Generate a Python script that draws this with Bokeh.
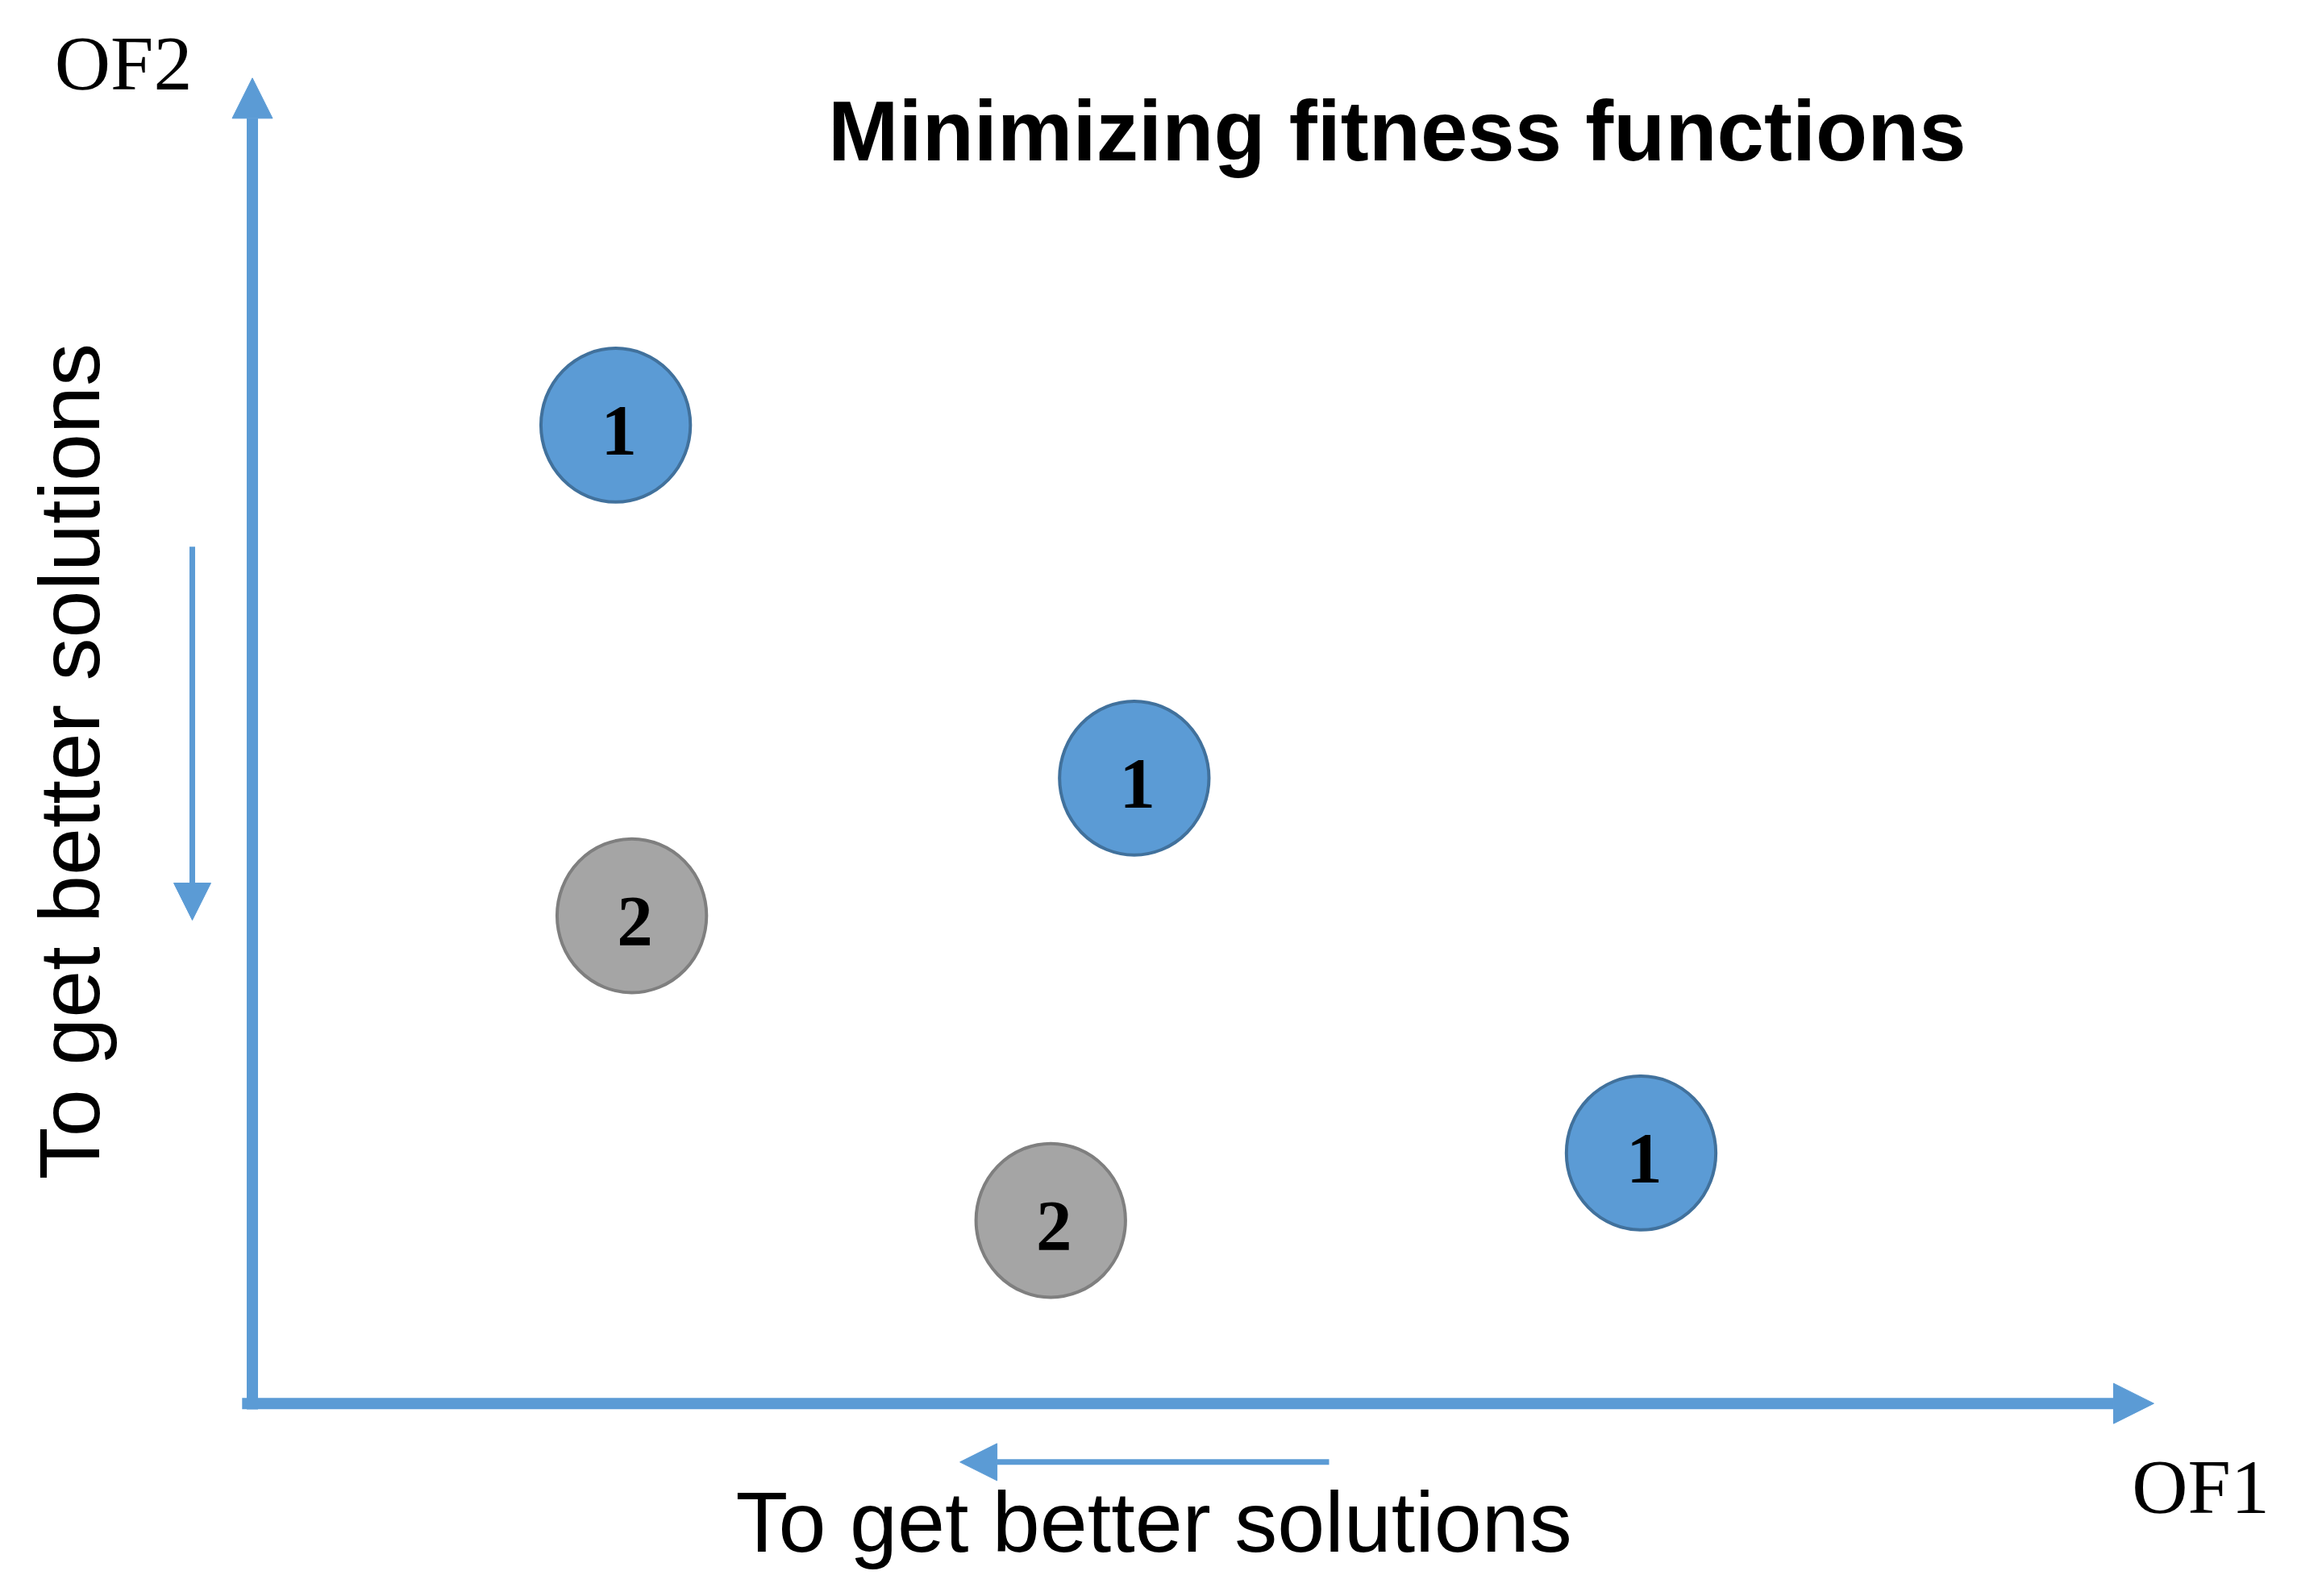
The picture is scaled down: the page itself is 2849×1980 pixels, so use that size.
from bokeh.plotting import figure
from bokeh.models import ColumnDataSource, Arrow, NormalHead, Label, Range1d
from bokeh.core.properties import value
from bokeh.embed import file_html
from bokeh.resources import INLINE

# ---- data (objective-space coordinates) ----
solution_of1 = [2.48, 6.02, 9.48, 2.59, 5.45]
solution_of2 = [6.68, 4.27, 1.71, 3.33, 1.25]
solution_rank = ["1", "1", "1", "2", "2"]

axis_of1_end = 12.98
axis_of2_end = 9.05

title_text = "Minimizing fitness functions"
x_axis_name = "OF1"
y_axis_name = "OF2"
hint_text = "To get better solutions"

# ---- styles ----
BLUE = "#5B9BD5"
BLUE_EDGE = "#41719C"
GRAY = "#A5A5A5"
GRAY_EDGE = "#7F7F7F"
fill_by_rank = {"1": BLUE, "2": GRAY}
edge_by_rank = {"1": BLUE_EDGE, "2": GRAY_EDGE}

W, H = 2833, 1964
ppu = 2849 / 1568 * 100.0          # pixels per data unit
ox = 172 * 2849 / 1568             # origin in figure pixels
oy = 958 * 2849 / 1568

p = figure(width=W, height=H, output_backend="svg", toolbar_location=None,
           x_range=Range1d(-ox / ppu, (W - ox) / ppu),
           y_range=Range1d((oy - H) / ppu, oy / ppu),
           x_axis_type=None, y_axis_type=None, min_border=0)
p.grid.visible = False
p.outline_line_color = None
p.background_fill_color = "white"
p.border_fill_color = "white"

# axes as arrows
p.add_layout(Arrow(end=NormalHead(size=50, fill_color=BLUE, line_color=BLUE, line_width=1),
                   x_start=0, y_start=-0.04, x_end=0, y_end=axis_of2_end,
                   line_color=BLUE, line_width=14))
p.add_layout(Arrow(end=NormalHead(size=50, fill_color=BLUE, line_color=BLUE, line_width=1),
                   x_start=-0.07, y_start=0, x_end=axis_of1_end, y_end=0,
                   line_color=BLUE, line_width=14))

# hint arrows
p.add_layout(Arrow(end=NormalHead(size=46, fill_color=BLUE, line_color=BLUE, line_width=1),
                   x_start=-0.41, y_start=5.85, x_end=-0.41, y_end=3.30,
                   line_color=BLUE, line_width=7))
p.add_layout(Arrow(end=NormalHead(size=46, fill_color=BLUE, line_color=BLUE, line_width=1),
                   x_start=7.35, y_start=-0.40, x_end=4.83, y_end=-0.40,
                   line_color=BLUE, line_width=7))

# solutions
src = ColumnDataSource(dict(
    x=solution_of1, y=solution_of2, rank=solution_rank,
    fill=[fill_by_rank[r] for r in solution_rank],
    edge=[edge_by_rank[r] for r in solution_rank],
))
p.ellipse(x="x", y="y", width=1.02, height=1.05, source=src,
          fill_color="fill", line_color="edge", line_width=4)
p.text(x="x", y="y", text="rank", source=src,
       text_font=value("Liberation Serif"), text_font_style="bold",
       text_font_size="89px", text_align="center", text_baseline="middle",
       x_offset=4, y_offset=7, text_color="black")

# texts
p.add_layout(Label(x=3.93, y=8.69, text=title_text,
                   text_font="Liberation Sans", text_font_style="bold",
                   text_font_size="105px", text_align="left",
                   text_baseline="alphabetic", text_color="black"))
p.add_layout(Label(x=-1.35, y=9.15, text=y_axis_name,
                   text_font="Liberation Serif", text_font_size="96px",
                   text_align="left", text_baseline="alphabetic", text_color="black"))
p.add_layout(Label(x=12.83, y=-0.57, text=x_axis_name,
                   text_font="Liberation Serif", text_font_size="96px",
                   text_align="left", text_baseline="alphabetic", text_color="black"))
p.add_layout(Label(x=3.30, y=-0.81, text=hint_text,
                   text_font="Liberation Sans", text_font_size="106px",
                   text_align="left", text_baseline="alphabetic", text_color="black"))
p.add_layout(Label(x=-1.25, y=1.53, text=hint_text, angle=90, angle_units="deg",
                   text_font="Liberation Sans", text_font_size="106px",
                   text_align="left", text_baseline="alphabetic", text_color="black"))

open("out.html", "w").write(file_html(p, INLINE))
